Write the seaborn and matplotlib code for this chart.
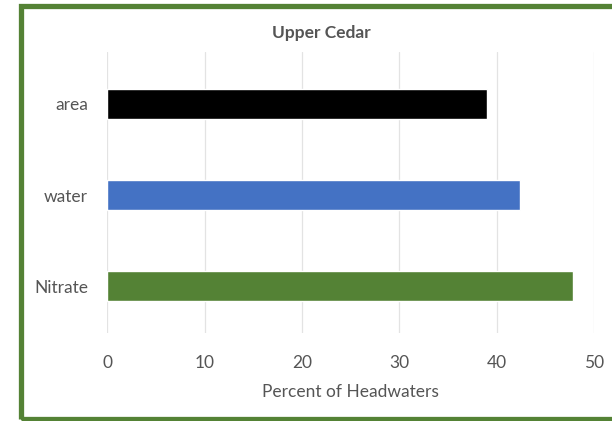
import matplotlib
matplotlib.use("Agg")
import matplotlib.pyplot as plt
from matplotlib.patches import Rectangle
import pandas as pd
import seaborn as sns

# Share of headwaters, by measure
categories = ["area", "water", "Nitrate"]
percent = [39.0, 42.4, 47.8]
bar_colors = ["#000000", "#4472C4", "#548235"]
x_ticks = [0, 10, 20, 30, 40, 50]

sns.set_theme(style="white")
plt.rcParams["font.family"] = ["Lato", "DejaVu Sans"]

df = pd.DataFrame({"category": categories, "percent": percent})

W, H = 612, 421
fig = plt.figure(figsize=(W / 100, H / 100), dpi=100)
ax = fig.add_axes([107.5 / W, (H - 333) / H, (594 - 107.5) / W, (333 - 52) / H])

sns.barplot(data=df, y="category", x="percent", hue="category",
            palette=bar_colors, order=categories, hue_order=categories,
            orient="h", width=0.32, legend=False, ax=ax, saturation=1)

ax.set_xlim(0, 50)
ax.set_ylim(2.516, -0.571)
ax.set_xticks(x_ticks)
ax.xaxis.grid(True, color="#E3E3E3", linewidth=0.9)
ax.set_axisbelow(True)
for s in ax.spines.values():
    s.set_visible(False)

ax.tick_params(axis="x", length=0, pad=16, labelsize=12.5, labelcolor="#555555")
ax.tick_params(axis="y", length=0, pad=14, labelsize=12.5, labelcolor="#555555")
ax.set_ylabel("")
ax.set_xlabel("Percent of Headwaters", fontsize=12.5, color="#555555", labelpad=9)

fig.text(321 / W, 1 - 33 / H, "Upper Cedar", ha="center", va="center",
         fontsize=12.5, color="#555555", fontweight="bold")

# Green frame around the chart
fig.patches.append(Rectangle((20.5 / W, 2.5 / H), 1.0, 413 / H,
                             transform=fig.transFigure, fill=False,
                             edgecolor="#548235", linewidth=3.8))

fig.savefig("out.png", dpi=100, facecolor="white")
